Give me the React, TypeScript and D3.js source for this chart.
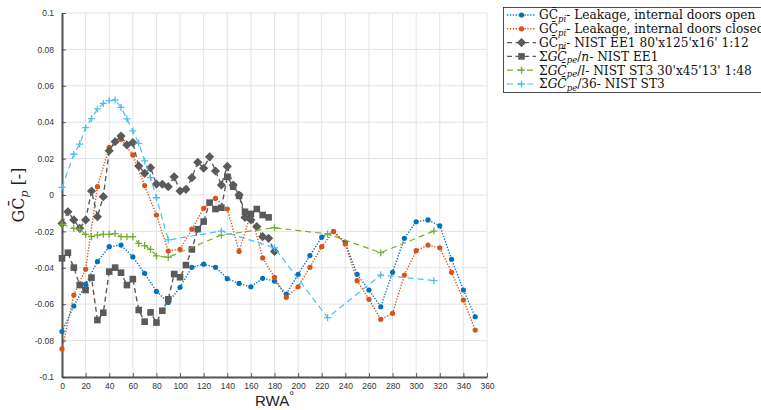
import React, { useEffect, useRef } from 'react';
import * as d3 from 'd3';

// wind angles (deg)
const anglesLeak = d3.range(0, 360, 10);
const anglesEE1 = d3.range(0, 185, 5);
const anglesEE1n = d3.range(0, 180, 5);
const anglesST3 = [0, 10, 15, 20, 25, 30, 35, 40, 45, 50, 55, 60, 65, 70, 75, 80, 90, 135, 180, 225, 270, 315];

const leakOpen = [-0.075, -0.061, -0.049, -0.0366, -0.0284, -0.0275, -0.034, -0.043, -0.053, -0.059, -0.0507, -0.0397,
  -0.038, -0.0397, -0.046, -0.0486, -0.0504, -0.0458, -0.0473, -0.0544, -0.0436, -0.0333, -0.0232, -0.0201,
  -0.026, -0.0436, -0.0522, -0.0614, -0.0425, -0.0238, -0.0147, -0.0137, -0.0169, -0.0353, -0.0522, -0.0669];
const leakClosed = [-0.0846, -0.055, -0.0408, 0.0046, 0.0262, 0.0306, 0.022, 0.0052, -0.011, -0.0308, -0.0298, -0.0188,
  -0.0073, -0.0018, -0.0077, -0.031, -0.0101, -0.0346, -0.0452, -0.0562, -0.0504, -0.0397, -0.0284, -0.0201,
  -0.0269, -0.0471, -0.0573, -0.0683, -0.065, -0.044, -0.0306, -0.0275, -0.029, -0.0425, -0.0577, -0.0742];
const ee1Pi = [-0.0156, -0.0092, -0.0137, -0.0183, -0.0137, 0.0022, -0.0119, -0.0009, 0.0243, 0.0293, 0.0324, 0.0275,
  0.0288, 0.0159, 0.0119, 0.015, 0.006, 0.0059, 0.0046, 0.01, 0.0022, 0.0031, 0.0095, 0.018, 0.0147, 0.021,
  0.0132, 0.0055, 0.0157, 0.0055, 0.0, -0.0123, -0.0137, -0.0174, -0.0229, -0.0238, -0.031];
const ee1Pe = [-0.0348, -0.0317, -0.0399, -0.0495, -0.0522, -0.0454, -0.0687, -0.0647, -0.0421, -0.0399, -0.0427, -0.0495,
  -0.0462, -0.0632, -0.0696, -0.0645, -0.0701, -0.0636, -0.0573, -0.0434, -0.0452, -0.0385, -0.0299, -0.0188,
  -0.0146, -0.0042, -0.0077, -0.007, 0.01, 0.0046, -0.0005, -0.0092, -0.0104, -0.0077, -0.011, -0.0123];
const st3L = [-0.0161, -0.0183, -0.0189, -0.0216, -0.0229, -0.022, -0.0216, -0.0216, -0.0212, -0.0229, -0.0229, -0.0229,
  -0.0266, -0.0278, -0.0299, -0.0335, -0.0342, -0.022, -0.018, -0.0214, -0.0317, -0.0198];
const st3_36 = [0.0042, 0.0224, 0.028, 0.037, 0.042, 0.0473, 0.0503, 0.0518, 0.0522, 0.0482, 0.0418, 0.0352,
  0.0284, 0.0187, 0.0095, -0.0015, -0.0247, -0.0198, -0.029, -0.0674, -0.044, -0.047];

const xTicks = d3.range(0, 361, 20);
const yTicks = d3.range(-0.1, 0.1001, 0.02);

type Series = {
  x: number[]; y: number[]; color: string; dash: string; width: number;
  marker: 'circle' | 'diamond' | 'square' | 'plus'; label: string[];
};

const series: Series[] = [
  { x: anglesLeak, y: leakOpen, color: '#0072BD', dash: '1.3,1.6', width: 1.4, marker: 'circle', label: ['pi', '- Leakage, internal doors open', ''] },
  { x: anglesLeak, y: leakClosed, color: '#D95319', dash: '1.3,1.6', width: 1.4, marker: 'circle', label: ['pi', '- Leakage, internal doors closed', ''] },
  { x: anglesEE1, y: ee1Pi, color: '#5a5a5a', dash: '5,3.5', width: 1.4, marker: 'diamond', label: ['pi', "- NIST EE1 80'x125'x16' 1:12", ''] },
  { x: anglesEE1n, y: ee1Pe, color: '#5a5a5a', dash: '5,3.5', width: 1.4, marker: 'square', label: ['pe', '- NIST EE1', 'n'] },
  { x: anglesST3, y: st3L, color: '#77AC30', dash: '6,4', width: 1.2, marker: 'plus', label: ['pe', "- NIST ST3 30'x45'13' 1:48", 'l'] },
  { x: anglesST3, y: st3_36, color: '#4DBEEE', dash: '6,4', width: 1.2, marker: 'plus', label: ['pe', '- NIST ST3', '36'] },
];

const App = () => {
  const ref = useRef<SVGSVGElement>(null);

  useEffect(() => {
    const svg = d3.select(ref.current);
    svg.selectAll('*').remove();

    const left = 62, right = 487, top = 13, bottom = 377;
    const x = d3.scaleLinear().domain([0, 360]).range([left, right]);
    const y = d3.scaleLinear().domain([-0.1, 0.1]).range([bottom, top]);

    // grid
    const grid = svg.append('g');
    xTicks.forEach(t => {
      grid.append('line').attr('x1', x(t)).attr('x2', x(t)).attr('y1', top).attr('y2', bottom)
        .attr('stroke', '#e3e3e3').attr('stroke-width', 1);
    });
    yTicks.forEach(t => {
      grid.append('line').attr('x1', left).attr('x2', right).attr('y1', y(t)).attr('y2', y(t))
        .attr('stroke', '#e3e3e3').attr('stroke-width', 1);
    });

    // axes
    const xAxis = svg.append('g').attr('transform', `translate(0,${bottom})`)
      .call(d3.axisBottom(x).tickValues(xTicks).tickSizeInner(-4).tickSizeOuter(0).tickPadding(6));
    const yAxis = svg.append('g').attr('transform', `translate(${left},0)`)
      .call(d3.axisLeft(y).tickValues(yTicks).tickSizeInner(-4).tickSizeOuter(0).tickPadding(8)
        .tickFormat(d => { const v = Math.round(+d * 100) / 100; return v === 0 ? '0' : String(v); }));
    [xAxis, yAxis].forEach(a => {
      a.select('.domain').attr('stroke', '#555').attr('stroke-width', 2);
      a.selectAll('.tick line').attr('stroke', '#333').attr('stroke-width', 0.8);
      a.selectAll('.tick text').attr('fill', '#333').style('font-family', 'Liberation Sans, Arial, sans-serif').style('font-size', '8.5px');
    });

    const drawMarker = (g: any, s: Series, px: number, py: number) => {
      if (s.marker === 'circle') {
        g.append('circle').attr('cx', px).attr('cy', py).attr('r', 2.6).attr('fill', s.color);
      } else if (s.marker === 'diamond') {
        const r = 4.6;
        g.append('path').attr('d', `M${px},${py - r}L${px + r},${py}L${px},${py + r}L${px - r},${py}Z`).attr('fill', s.color);
      } else if (s.marker === 'square') {
        g.append('rect').attr('x', px - 3.3).attr('y', py - 3.3).attr('width', 6.6).attr('height', 6.6).attr('fill', s.color);
      } else {
        const r = 3.5;
        g.append('path').attr('d', `M${px - r},${py}H${px + r}M${px},${py - r}V${py + r}`)
          .attr('stroke', s.color).attr('stroke-width', 1.3).attr('fill', 'none');
      }
    };

    const line = d3.line<[number, number]>().x(d => x(d[0])).y(d => y(d[1]));
    series.forEach(s => {
      const pts = s.x.map((a, i) => [a, s.y[i]] as [number, number]);
      const g = svg.append('g');
      g.append('path').attr('d', line(pts)).attr('fill', 'none').attr('stroke', s.color)
        .attr('stroke-width', s.width).attr('stroke-dasharray', s.dash);
      pts.forEach(p => drawMarker(g, s, x(p[0]), y(p[1])));
    });

    // axis labels
    const xl = svg.append('text').attr('x', (left + right) / 2).attr('y', 406).attr('text-anchor', 'middle')
      .style('font-family', 'Liberation Sans, Arial, sans-serif').style('font-size', '15px').attr('fill', '#222');
    xl.append('tspan').text('RWA');
    xl.append('tspan').attr('dy', -6).style('font-size', '12px').text('°');

    const yl = svg.append('text').attr('transform', `translate(24,${(top + bottom) / 2}) rotate(-90)`)
      .attr('text-anchor', 'middle').style('font-family', 'DejaVu Serif, serif').style('font-size', '16px').attr('fill', '#222');
    yl.append('tspan').text('GC\u0304');
    yl.append('tspan').attr('dy', 4).style('font-size', '11px').style('font-style', 'italic').text('p');
    yl.append('tspan').attr('dy', -4).text(' [-]');

    // legend
    const lg = svg.append('g');
    lg.append('rect').attr('x', 503.5).attr('y', 7.5).attr('width', 262).attr('height', 85)
      .attr('fill', 'white').attr('stroke', '#222').attr('stroke-width', 0.8);
    series.forEach((s, i) => {
      const cy = 15 + i * 13.8;
      lg.append('line').attr('x1', 507).attr('x2', 536).attr('y1', cy).attr('y2', cy)
        .attr('stroke', s.color).attr('stroke-width', s.width).attr('stroke-dasharray', s.dash);
      drawMarker(lg, s, 521.5, cy);
      const t = lg.append('text').attr('x', 539).attr('y', cy + 4.3)
        .style('font-family', 'DejaVu Serif, serif').style('font-size', '12.2px').attr('fill', '#111');
      const [sub, rest, div] = s.label;
      if (div) {
        t.append('tspan').text('\u03A3');
        t.append('tspan').style('font-style', 'italic').text('GC\u0304');
      } else {
        t.append('tspan').text('GC\u0304');
      }
      t.append('tspan').attr('dy', 2.5).style('font-size', '8.5px').style('font-style', 'italic').text(sub);
      if (div) {
        t.append('tspan').attr('dy', -2.5).text('/');
        t.append('tspan').style('font-style', div === '36' ? 'normal' : 'italic').text(div);
        t.append('tspan').text(rest);
      } else {
        t.append('tspan').attr('dy', -2.5).text(rest);
      }
    });
  }, []);

  return (
    <svg ref={ref} width={761} height={410}
      style={{ position: 'absolute', left: 0, top: 0, background: 'white' }} />
  );
};

export default App;
